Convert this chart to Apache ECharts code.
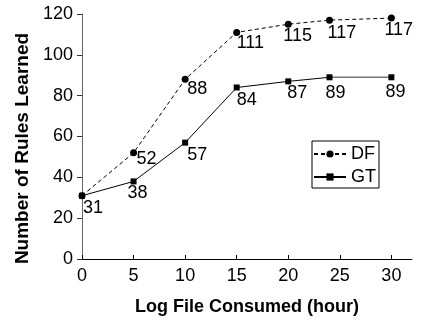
<!DOCTYPE html>
<html>
<head>
<meta charset="utf-8">
<script src="https://cdn.jsdelivr.net/npm/echarts@6/dist/echarts.min.js"></script>
<style>
  html, body { margin: 0; padding: 0; background: #fff; }
  #chart { width: 421px; height: 324px; }
</style>
</head>
<body>
<div id="chart"></div>
<script>
// hours of log consumed
const hours = [0, 5, 10, 15, 20, 24, 30];
// DF (dashed, circles)
const dfValues = [31, 52, 88, 111, 115, 117, 118];
const dfLabels = ['', '52', '88', '111', '115', '117', '117'];
// GT (solid, squares)
const gtValues = [31, 38, 57, 84, 87, 89, 89];
const gtLabels = ['31', '38', '57', '84', '87', '89', '89'];
const xTicks = [0, 5, 10, 15, 20, 25, 30];

// small nudges of the value labels, as placed in the source figure
const dfLabelShift = [[0, 0], [3, -6], [2, -3], [0, -2], [-5, -1], [-2, 0], [-7, -1]];
const gtLabelShift = [[1, 0], [-6, 0], [2, 0], [0, 1], [-1, 0], [-4, 4], [-6, 3]];

const FONT = 'Liberation Sans, Arial, Helvetica, sans-serif';

function points(xs, ys, labels, shifts) {
  return xs.map((x, i) => ({
    value: [x, ys[i]],
    labelText: labels[i],
    label: { offset: shifts[i] },
  }));
}

const chart = echarts.init(document.getElementById('chart'));

const baseLabel = {
  show: true,
  position: 'bottom',
  align: 'left',
  distance: 0,
  color: '#000',
  fontFamily: FONT,
  fontSize: 18,
  formatter: p => p.data.labelText,
};

const gtPoints = points(hours, gtValues, gtLabels, gtLabelShift);
// last GT segment is drawn grey in the source
const gtTail = gtPoints.slice(5).map((d, i) => Object.assign({}, d, i === 0 ? { symbol: 'none', label: { show: false } } : {}));

chart.setOption({
  animation: false,
  textStyle: { fontFamily: FONT },
  grid: { left: 82, right: 9, top: 14, bottom: 65 },
  legend: {
    orient: 'vertical',
    left: 312,
    top: 141,
    padding: [4, 3, 2, 1],
    itemGap: 5,
    itemWidth: 32,
    itemHeight: 9,
    borderColor: '#000',
    borderWidth: 1,
    backgroundColor: '#fff',
    textStyle: { fontSize: 18, color: '#000', fontFamily: FONT },
    data: ['DF', 'GT'],
  },
  xAxis: {
    type: 'value',
    min: 0,
    max: 32,
    interval: 5,
    name: 'Log File Consumed (hour)',
    nameLocation: 'middle',
    nameGap: 39,
    nameTextStyle: { fontSize: 18, fontWeight: 'bold', color: '#000', fontFamily: FONT },
    axisLine: { lineStyle: { color: '#000', width: 1 } },
    axisTick: { inside: true, length: 4, lineStyle: { color: '#000' }, customValues: xTicks },
    axisLabel: { margin: 8, fontSize: 18, color: '#000', fontFamily: FONT, customValues: xTicks },
    splitLine: { show: false },
  },
  yAxis: {
    type: 'value',
    min: 0,
    max: 120,
    interval: 20,
    name: 'Number of Rules Learned',
    nameLocation: 'middle',
    nameGap: 41,
    nameTextStyle: { fontSize: 19, fontWeight: 'bold', color: '#000', fontFamily: FONT, padding: [0, 24, 0, 0] },
    axisLine: { show: true, lineStyle: { color: '#666', width: 1 } },
    axisTick: { show: true, length: 5, lineStyle: { color: '#333' } },
    axisLabel: { margin: 9, fontSize: 18, color: '#000', fontFamily: FONT },
    splitLine: { show: false },
  },
  series: [
    {
      name: 'DF',
      type: 'line',
      z: 3,
      data: points(hours, dfValues, dfLabels, dfLabelShift),
      symbol: 'circle',
      symbolSize: 7,
      itemStyle: { color: '#000' },
      lineStyle: { color: '#000', width: 1, type: [4, 3] },
      label: baseLabel,
    },
    {
      name: 'GT',
      type: 'line',
      z: 3,
      data: gtPoints.slice(0, 6),
      symbol: 'rect',
      symbolSize: 6,
      itemStyle: { color: '#000' },
      lineStyle: { color: '#000', width: 1 },
      label: baseLabel,
    },
    {
      name: 'GT tail',
      type: 'line',
      z: 2,
      data: gtTail,
      symbol: 'rect',
      symbolSize: 6,
      itemStyle: { color: '#000' },
      lineStyle: { color: '#777', width: 1.5 },
      label: baseLabel,
    },
  ],
});
</script>
</body>
</html>
